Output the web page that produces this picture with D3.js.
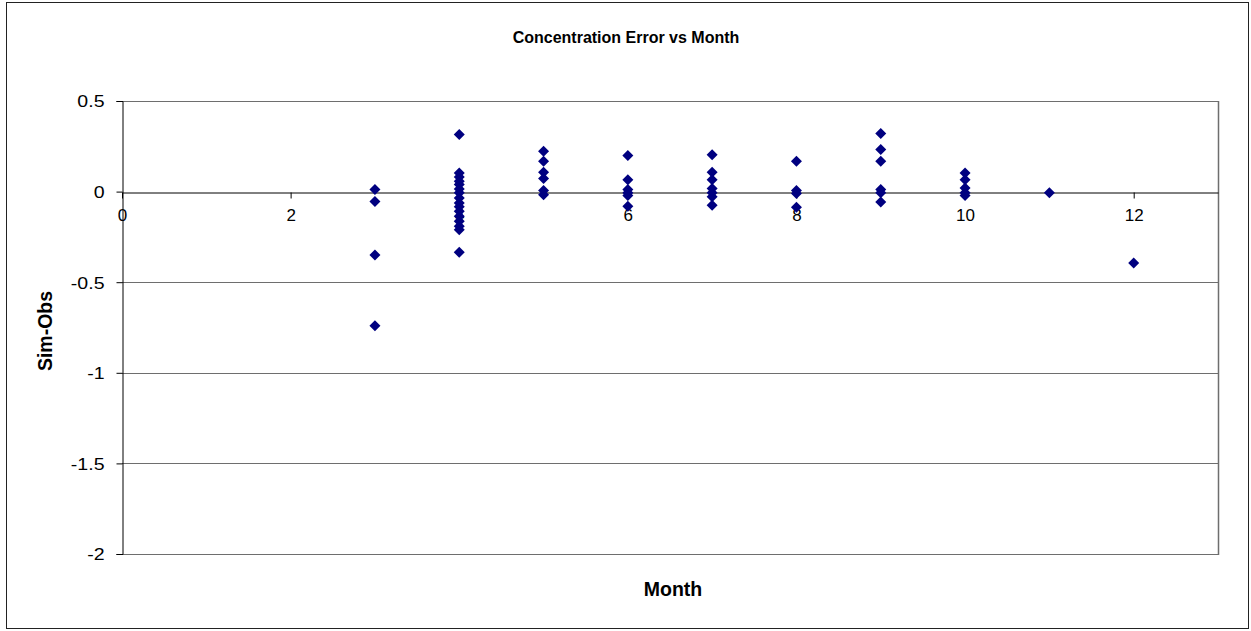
<!DOCTYPE html>
<html><head><meta charset="utf-8">
<script src="https://cdn.jsdelivr.net/npm/d3@7"></script>
<style>body{margin:0;background:#fff}svg{display:block}text{font-family:"Liberation Sans",Arial,sans-serif}</style>
</head><body>
<svg id="c" width="1251" height="631"></svg>
<script>
const months = [3,3,3,3,
  4,4,4,4,4,4,4,4,4,4,4,4,4,4,4,4,
  5,5,5,5,5,5,
  6,6,6,6,6,6,
  7,7,7,7,7,7,7,
  8,8,8,8,
  9,9,9,9,9,9,
  10,10,10,10,10,
  11,12];
const errors = [0.011,-0.054,-0.35,-0.74,
  0.315,0.103,0.081,0.057,0.039,0.015,-0.007,-0.035,-0.063,-0.084,-0.108,-0.136,-0.164,-0.191,-0.21,-0.335,
  0.222,0.167,0.107,0.072,0.006,-0.017,
  0.199,0.066,0.011,-0.007,-0.022,-0.081,
  0.204,0.107,0.066,0.017,-0.007,-0.029,-0.076,
  0.167,0.006,-0.011,-0.087,
  0.32,0.232,0.167,0.011,-0.007,-0.057,
  0.103,0.066,0.02,-0.007,-0.022,
  -0.007,-0.394];
const xTicks = [0,2,4,6,8,10,12];
const yTicks = [0.5,0,-0.5,-1,-1.5,-2];
const title = "Concentration Error vs Month";
const xTitle = "Month";
const yTitle = "Sim-Obs";

const svg = d3.select("#c");
const L=122,R=1218,T=101,B=554;
const x = d3.scaleLinear().domain([0,13]).range([L,R]);
const y = d3.scaleLinear().domain([-2,0.5]).range([B,T]);

// outer border
svg.append("rect").attr("x",6.5).attr("y",2.5).attr("width",1242).attr("height",626)
  .attr("fill","#fff").attr("stroke","#222").attr("stroke-width",1);

// gridlines
svg.append("g").selectAll("line").data(yTicks.filter(d=>d!==0)).join("line")
  .attr("x1",L).attr("x2",R).attr("y1",d=>Math.round(y(d))+0.5).attr("y2",d=>Math.round(y(d))+0.5)
  .attr("stroke","#6e6e6e").attr("stroke-width",1);
// right border of plot
svg.append("line").attr("x1",R+0.5).attr("x2",R+0.5).attr("y1",T).attr("y2",B+1)
  .attr("stroke","#6e6e6e").attr("stroke-width",1.5);

// y axis
const yAxis = svg.append("g").attr("transform",`translate(${L+0.5},0)`)
  .call(d3.axisLeft(y).tickValues(yTicks).tickSize(6).tickPadding(12).tickFormat(d=>String(d)));
yAxis.select(".domain").attr("stroke","#000");
yAxis.selectAll("text").attr("font-size",17).attr("fill","#000").attr("dy","0.35em")
  .attr("transform","scale(1.15,1)").attr("x",-18/1.15);

// x axis at y=0
const xAxis = svg.append("g").attr("transform",`translate(0,${Math.round(y(0))+0.5})`)
  .call(d3.axisBottom(x).tickValues(xTicks).tickSize(6).tickPadding(10).tickSizeOuter(0));
xAxis.select(".domain").attr("stroke","#000");
xAxis.selectAll("text").attr("font-size",17).attr("fill","#000");

// points
svg.append("g").selectAll("path").data(months.map((m,i)=>[m,errors[i]])).join("path")
  .attr("d","M0,-5.5L5.5,0L0,5.5L-5.5,0Z")
  .attr("transform",d=>`translate(${x(d[0])},${y(d[1])})`)
  .attr("fill","#000080");

// titles
svg.append("text").attr("x",626).attr("y",43).attr("text-anchor","middle")
  .attr("font-size",16).attr("font-weight","bold").text(title);
svg.append("text").attr("x",673).attr("y",596).attr("text-anchor","middle")
  .attr("font-size",19.5).attr("font-weight","bold").text(xTitle);
svg.append("text").attr("transform","translate(52,331) rotate(-90)").attr("text-anchor","middle")
  .attr("font-size",19.5).attr("font-weight","bold").text(yTitle);
</script>
</body></html>
